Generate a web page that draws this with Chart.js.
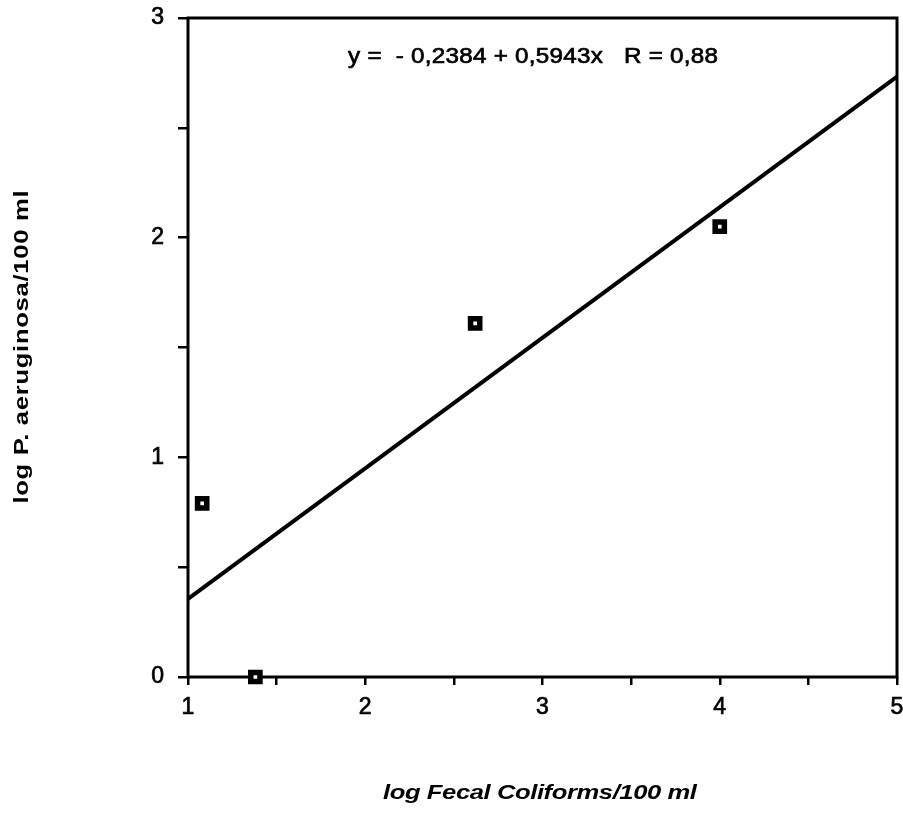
<!DOCTYPE html>
<html>
<head>
<meta charset="utf-8">
<script src="https://cdn.jsdelivr.net/npm/chart.js@4/dist/chart.umd.min.js"></script>
<style>
    body { margin: 0; background: #fff; }
    #wrap { width: 903px; height: 815px; }
</style>
</head>
<body>
<div id="wrap"><canvas id="fitChart" width="903" height="815"></canvas></div>
<script>
// samples (log fecal coliforms, log P. aeruginosa)
const fecalLog = [1.08, 1.38, 2.62, 4.0];
const aeruginosaLog = [0.79, 0.0, 1.61, 2.05];

// regression y = a + b x
const fitIntercept = -0.2384;
const fitSlope = 0.5943;
const fitR = 0.88;
const fitRangeX = [1, 5];

const xTickLabels = ['1', '2', '3', '4', '5'];
const yTickLabels = ['0', '1', '2', '3'];

const fontFamily = "'Liberation Sans', Arial, sans-serif";

function fmt(v, d) {
    return v.toFixed(d).replace('.', ',');
}

const equationText = 'y =  - ' + fmt(Math.abs(fitIntercept), 4) + ' + ' + fmt(fitSlope, 4) + 'x   R = ' + fmt(fitR, 2);

// wide old-style lettering: stretch glyphs a bit and spread them to a set width
function drawWide(ctx, text, font, width, stretch, weight) {
    ctx.font = font;
    ctx.letterSpacing = '0px';
    const plain = ctx.measureText(text).width;
    const gap = (width / stretch - plain) / (text.length - 1);
    ctx.letterSpacing = gap.toFixed(2) + 'px';
    ctx.scale(stretch, 1);
    ctx.fillText(text, gap / 2, 0);
    if (weight) {
        ctx.lineWidth = weight;
        ctx.strokeText(text, gap / 2, 0);
    }
}

// frame, titles and equation drawn straight onto the canvas
const decorPlugin = {
    id: 'decor',
    beforeDatasetsDraw(chart) {
        const { ctx, chartArea } = chart;
        ctx.save();
        ctx.strokeStyle = '#000';
        ctx.lineWidth = 3;
        ctx.strokeRect(chartArea.left, chartArea.top, chartArea.right - chartArea.left, chartArea.bottom - chartArea.top);
        ctx.restore();
    },
    afterDatasetsDraw(chart) {
        const { ctx } = chart;
        ctx.fillStyle = '#000';
        ctx.strokeStyle = '#000';
        ctx.textAlign = 'center';
        ctx.textBaseline = 'middle';

        ctx.save();
        ctx.translate(533, 57);
        drawWide(ctx, equationText, '22px ' + fontFamily, 370, 1.1, 0.7);
        ctx.restore();

        ctx.save();
        ctx.translate(540, 793);
        drawWide(ctx, 'log Fecal Coliforms/100 ml', 'italic bold 21px ' + fontFamily, 314, 1.22);
        ctx.restore();

        ctx.save();
        ctx.translate(22, 347);
        ctx.rotate(-Math.PI / 2);
        drawWide(ctx, 'log P. aeruginosa/100 ml', 'bold 21px ' + fontFamily, 313, 1.22);
        ctx.restore();
    }
};

const fitLine = fitRangeX.map(x => ({ x: x, y: fitIntercept + fitSlope * x }));
const samples = fecalLog.map((x, i) => ({ x: x, y: aeruginosaLog[i] }));

new Chart(document.getElementById('fitChart'), {
    type: 'scatter',
    data: {
        datasets: [
            {
                type: 'line',
                data: fitLine,
                borderColor: '#000',
                borderWidth: 4,
                pointRadius: 0,
                fill: false,
                clip: false
            },
            {
                data: samples,
                pointStyle: 'rect',
                pointRadius: 6.5,
                pointBorderWidth: 5.5,
                pointBackgroundColor: '#fff',
                pointBorderColor: '#000',
                clip: false
            }
        ]
    },
    options: {
        responsive: false,
        animation: false,
        layout: { autoPadding: false, padding: { left: 0, top: 18, right: 6, bottom: 0 } },
        plugins: {
            legend: { display: false },
            tooltip: { enabled: false }
        },
        scales: {
            x: {
                type: 'linear',
                min: 1,
                max: 5,
                afterFit: s => {
                    s.height = 138;
                    s.paddingLeft = 0;
                    s.paddingRight = 0;
                },
                border: { display: false },
                grid: { drawOnChartArea: false, tickLength: 8, color: '#000', lineWidth: 2.5 },
                ticks: {
                    stepSize: 0.5,
                    autoSkip: false,
                    maxRotation: 0,
                    padding: 9,
                    color: '#000',
                    textStrokeColor: '#000',
                    textStrokeWidth: 0.7,
                    font: { family: fontFamily, size: 23 },
                    callback: v => Number.isInteger(v) ? xTickLabels[v - 1] : ''
                }
            },
            y: {
                type: 'linear',
                min: 0,
                max: 3,
                afterFit: s => {
                    s.width = 188;
                    s.paddingTop = 0;
                    s.paddingBottom = 0;
                },
                border: { display: false },
                grid: { drawOnChartArea: false, tickLength: 10, color: '#000', lineWidth: 2.5 },
                ticks: {
                    stepSize: 0.5,
                    autoSkip: false,
                    padding: 14,
                    color: '#000',
                    textStrokeColor: '#000',
                    textStrokeWidth: 0.7,
                    font: { family: fontFamily, size: 23 },
                    callback: v => Number.isInteger(v) ? yTickLabels[v] : ''
                }
            }
        }
    },
    plugins: [decorPlugin]
});
</script>
</body>
</html>
